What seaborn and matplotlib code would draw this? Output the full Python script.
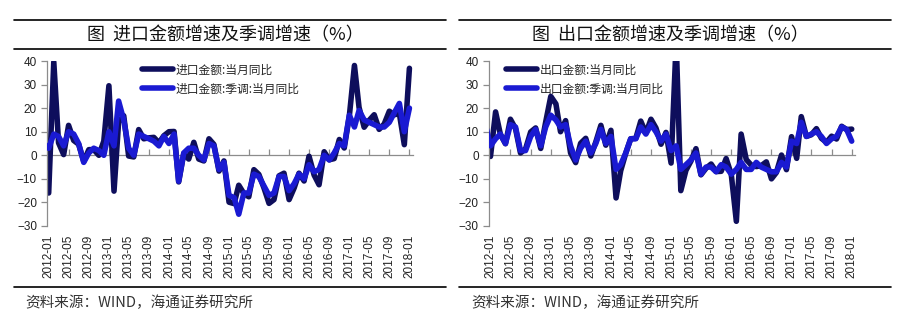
import matplotlib
matplotlib.use('Agg')
import matplotlib.pyplot as plt
import matplotlib.dates as mdates
from matplotlib.lines import Line2D
from matplotlib.font_manager import FontProperties
import numpy as np
import pandas as pd
import seaborn as sns

# ---------------- data ----------------
months = pd.date_range('2011-12-01', '2018-01-01', freq='MS')
tick_dates = pd.date_range('2012-01-01', '2018-01-01', freq='4MS')
tick_labels = [d.strftime('%Y-%m') for d in tick_dates]
y_ticks = [-30, -20, -10, 0, 10, 20, 30, 40]

import_yoy = [15,
              -16, 39.6, 5.3, 0.3, 12.7, 6.3, 4.7, -2.6, 2.4, 2.4, 0.0, 6.0,
              29.5, -15.2, 14.1, 16.8, -0.3, -0.7, 10.9, 7.0, 7.4, 7.6, 5.3, 8.3,
              10.0, 10.1, -11.3, 0.8, -1.6, 5.5, -1.6, -2.4, 7.0, 4.6, -6.7, -2.4,
              -19.9, -20.5, -12.7, -16.2, -17.6, -6.1, -8.1, -13.8, -20.4, -18.8, -8.7, -7.6,
              -18.8, -13.8, -7.6, -10.9, -0.4, -8.4, -12.5, 1.5, -1.9, -1.4, 6.7, 3.1,
              16.7, 38.1, 20.3, 11.9, 14.8, 17.2, 11.0, 13.3, 18.7, 17.2, 17.7, 4.5,
              36.9]
import_sa = [5,
             3, 9, 8, 4, 10, 9, 5, -3, 1, 3, 2, 0,
             10, 4, 23, 15, 3, 0, 9, 8, 7, 6, 4, 8,
             5, 9, -11, 1, 3, 3, 0, -2, 5, 4, -6, -3,
             -17, -18, -25, -16, -16, -8, -9, -13, -17, -16, -9, -9,
             -15, -12, -8, -10, -4, -7, -6, 0, -2, 1, 5, 4,
             17, 12, 19, 15, 14, 13, 12, 12, 14, 18, 22, 10,
             20]
export_yoy = [13.4,
              -0.5, 18.4, 8.9, 4.9, 15.3, 11.3, 1.0, 2.7, 9.9, 11.6, 2.9, 14.1,
              25.0, 21.8, 10.0, 14.7, 1.0, -3.1, 5.1, 7.2, -0.3, 5.6, 12.7, 4.3,
              10.6, -18.1, -6.6, 0.9, 7.0, 7.2, 14.5, 9.4, 15.3, 11.6, 4.7, 9.7,
              -3.3, 48.3, -15.0, -6.4, -2.5, 2.8, -8.3, -5.5, -3.7, -6.9, -6.8, -1.4,
              -8.0, -28.0, 9.0, -1.8, -4.1, -4.8, -4.4, -2.8, -10.0, -7.3, 0.1, -6.1,
              7.9, -1.3, 16.4, 8.0, 8.7, 11.3, 7.2, 5.5, 8.1, 6.9, 12.3, 10.9,
              11.1]
export_sa = [13,
             4, 7, 9, 5, 13, 12, 2, 2, 8, 11, 4, 12,
             17, 15, 12, 13, 4, -2, 3, 6, 1, 5, 11, 5,
             8, -6, -4, 1, 7, 7, 12, 9, 13, 10, 6, 9,
             2, 4, -6, -4, -2, 1, -8, -5, -5, -7, -4, -5,
             -8, -6, -3, -6, -6, -3, -5, -6, -7, -7, -3, -5,
             6, 5, 14, 8, 9, 10, 8, 5, 7, 8, 12, 11,
             6]

titles = ['图  进口金额增速及季调增速（%）', '图  出口金额增速及季调增速（%）']
legend_import = ['进口金额:当月同比', '进口金额:季调:当月同比']
legend_export = ['出口金额:当月同比', '出口金额:季调:当月同比']
source = '资料来源：WIND，海通证券研究所'

# ---------------- style ----------------
sns.set_theme(style='white')
plt.rcParams['font.family'] = ['Liberation Sans', 'DejaVu Sans']
CJK = ['Noto Sans CJK SC', 'DejaVu Sans']
DARK = '#0e0e5c'
BLUE = '#1a1ad2'
GRAY = '#8c8c8c'

W, H = 913, 326
fig = plt.figure(figsize=(W / 100, H / 100), dpi=100)
fig.patch.set_facecolor('white')


def fx(px):
    return px / W


def fy(py):
    return 1 - py / H


panels = [
    dict(l=46.7, r=412.7, rl=14, rr=446, tx=225, sx=25, lx=142,
         labels=legend_import, dark=import_yoy, sa=import_sa, title=titles[0]),
    dict(l=488.5, r=855.0, rl=459, rr=891, tx=670, sx=471, lx=506,
         labels=legend_export, dark=export_yoy, sa=export_sa, title=titles[1]),
]

top_px, bot_px = 61, 226
LW = 4.0

for p in panels:
    ax = fig.add_axes([fx(p['l']), fy(bot_px), fx(p['r']) - fx(p['l']), (bot_px - top_px) / H])
    ax.set_facecolor('white')
    df = pd.DataFrame({'month': months, 'yoy': p['dark'], 'sa': p['sa']})
    sns.lineplot(data=df, x='month', y='yoy', ax=ax, color=DARK, lw=LW,
                 label=p['labels'][0], zorder=2,
                 solid_joinstyle='round', solid_capstyle='round')
    sns.lineplot(data=df, x='month', y='sa', ax=ax, color=BLUE, lw=LW,
                 label=p['labels'][1], zorder=3,
                 solid_joinstyle='round', solid_capstyle='round')
    ax.set_xlim(pd.Timestamp('2011-12-20'), pd.Timestamp('2018-01-21'))
    ax.set_ylim(-30, 40)
    ax.set_yticks(y_ticks)
    ax.set_xlabel('')
    ax.set_ylabel('')
    ax.grid(False)
    for s in ['top', 'right']:
        ax.spines[s].set_visible(False)
    ax.spines['left'].set_color(GRAY)
    ax.spines['left'].set_linewidth(0.9)
    ax.spines['bottom'].set_position(('data', 0))
    ax.spines['bottom'].set_color(GRAY)
    ax.spines['bottom'].set_linewidth(0.9)
    ax.spines['bottom'].set_zorder(1)
    ax.tick_params(axis='y', left=True, direction='out', length=4, width=0.9,
                   color=GRAY, labelsize=8.5, pad=3, labelcolor='#222222')
    ax.set_xticks(mdates.date2num(tick_dates))
    ax.tick_params(axis='x', bottom=True, direction='in', length=4, width=0.9,
                   color=GRAY, labelbottom=False)
    sec = ax.secondary_xaxis('bottom')
    sec.set_xticks(mdates.date2num(tick_dates), labels=tick_labels)
    sec.tick_params(length=0, pad=6, labelsize=8.5, labelrotation=90,
                    labelcolor='#222222')
    sec.spines['bottom'].set_visible(False)

    ax.legend(loc='upper left',
              bbox_to_anchor=((p['lx'] - p['l']) / (p['r'] - p['l']), 0.985),
              frameon=False, prop=FontProperties(family=CJK, size=8.5),
              handlelength=2.6, handletextpad=0.25, labelspacing=0.5,
              borderpad=0, borderaxespad=0)

    for ypx in (20, 49.3, 287.3):
        fig.add_artist(Line2D([fx(p['rl']), fx(p['rr'])], [fy(ypx), fy(ypx)],
                              transform=fig.transFigure, color='black', lw=1.2))
    fig.text(fx(p['tx']), fy(35), p['title'], ha='center', va='center',
             family=CJK, size=13, weight='medium', color='#111111')
    fig.text(fx(p['sx']), fy(303), source, ha='left', va='center',
             family=CJK, size=10.5, color='#333333')

fig.savefig('out.png', dpi=100, facecolor='white')
